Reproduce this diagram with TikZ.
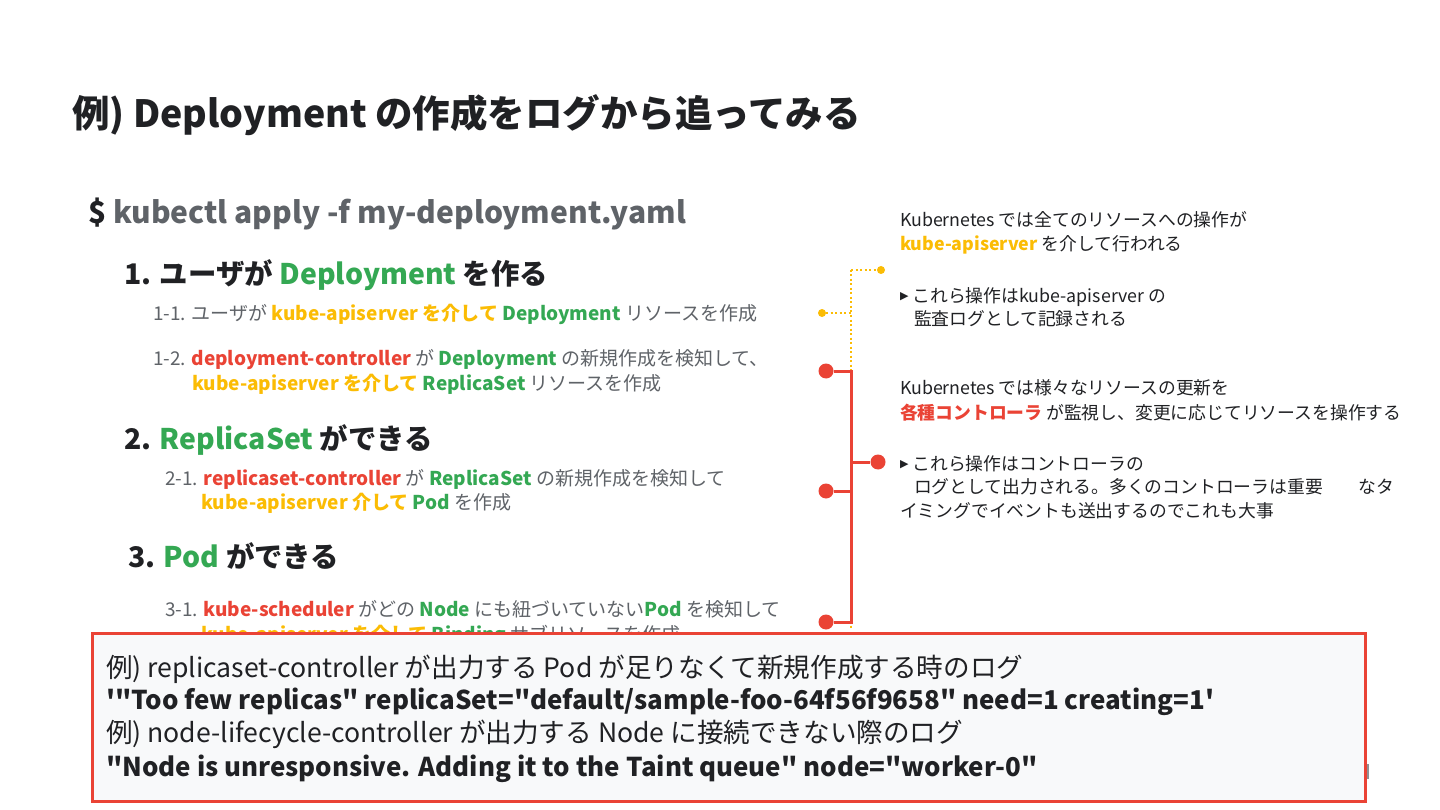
\documentclass[tikz,border=0pt]{standalone}
\usepackage{fontspec}
\setmainfont{Noto Sans CJK JP}[Ligatures=TeXOff]
\newfontfamily\symf{DejaVu Sans}
\definecolor{kred}{HTML}{EA4335}
\definecolor{kyel}{HTML}{FBBC04}
\definecolor{kgreen}{HTML}{34A853}
\definecolor{kgray}{HTML}{5F6368}
\definecolor{kblack}{HTML}{202124}
\definecolor{kbox}{HTML}{F8F9FA}
\newcommand\myfs[1]{\fontsize{#1}{#1}\selectfont}
\newcommand\kGr[1]{\textcolor{kgreen}{\bfseries #1}}
\newcommand\kYe[1]{\textcolor{kyel}{\bfseries #1}}
\newcommand\kRe[1]{\textcolor{kred}{\bfseries #1}}
\newcommand\ktri{\raisebox{2.5pt}{\symf\myfs{11}▶}\hspace{4pt}}
\tikzset{
  txt/.style={anchor=base west, inner sep=0pt, outer sep=0pt},
  titletxt/.style={txt, font=\myfs{37.5}\bfseries, text=kblack},
  cmdtxt/.style={txt, font=\myfs{30}\bfseries, text=kgray},
  headtxt/.style={txt, font=\myfs{28.4}\bfseries, text=kblack},
  bodytxt/.style={txt, font=\myfs{19}, text=kgray},
  righttxt/.style={txt, font=\myfs{17.8}, text=kblack},
  boxtxt/.style={txt, font=\myfs{26.6}, text=kblack},
  boxbold/.style={txt, font=\myfs{25.9}\bfseries, text=kblack},
  ydot/.style={circle, fill=kyel, inner sep=0pt, minimum size=8pt},
  rdot/.style={circle, fill=kred, inner sep=0pt, minimum size=15pt},
  yline/.style={draw=kyel, line width=2pt, dash pattern=on 2pt off 2.5pt},
  rline/.style={draw=kred, line width=3pt},
  logbox/.style={draw=kred, line width=3pt, fill=kbox}
}
\begin{document}
\begin{tikzpicture}[x=1pt, y=-1pt]
\useasboundingbox (0,0) rectangle (1440,810);
\fill[white] (0,0) rectangle (1440,810);

% title and command
\node[titletxt] (title) at (72,128) {例) Deployment の作成をログから追ってみる};
\node[cmdtxt] (cmd) at (88,224) {\textcolor{kblack}{\$} kubectl apply -f my-deployment.yaml};

% steps
\node[headtxt] (h1) at (124,284) {1. ユーザが \kGr{Deployment} を作る};
\node[bodytxt] (s11) at (153,320) {1-1. ユーザが \kYe{kube-apiserver を介して} \kGr{Deployment} リソースを作成};
\node[bodytxt] (s12a) at (153,365) {1-2. \kRe{deployment-controller} が \kGr{Deployment} の新規作成を検知して、};
\node[bodytxt] (s12b) at (192,390) {\kYe{kube-apiserver を介して} \kGr{ReplicaSet} リソースを作成};
\node[headtxt] (h2) at (124,449) {2. \kGr{ReplicaSet} ができる};
\node[bodytxt] (s21a) at (165,485) {2-1. \kRe{replicaset-controller} が \kGr{ReplicaSet} の新規作成を検知して};
\node[bodytxt] (s21b) at (201,509) {\kYe{kube-apiserver 介して} \kGr{Pod} を作成};
\node[headtxt] (h3) at (128,567) {3. \kGr{Pod} ができる};
\node[bodytxt] (s31a) at (165,616) {3-1. \kRe{kube-scheduler} がどの \kGr{Node} にも紐づいていない\kGr{Pod} を検知して};
\node[bodytxt] (s31b) at (201,641) {\kYe{kube-apiserver を介して} \kGr{Binding} サブリソースを作成};

% right notes
\node[righttxt] (r1a) at (900,227) {Kubernetes では全てのリソースへの操作が};
\node[righttxt] (r1b) at (900,251) {\kYe{kube-apiserver} を介して行われる};
\node[righttxt] (r2a) at (900,302) {\ktri これら操作はkube-apiserver の};
\node[righttxt] (r2b) at (914,325) {監査ログとして記録される};
\node[righttxt] (r3a) at (900,394) {Kubernetes では様々なリソースの更新を};
\node[righttxt] (r3b) at (900,419) {\kRe{各種コントローラ} が監視し、変更に応じてリソースを操作する};
\node[righttxt] (r4a) at (900,470) {\ktri これら操作はコントローラの};
\node[righttxt] (r4b) at (914,493) {ログとして出力される。多くのコントローラは重要　　なタ};
\node[righttxt] (r4c) at (900,517) {イミングでイベントも送出するのでこれも大事};

% yellow dotted connector
\node[ydot] (yd1) at (822,313) {};
\node[ydot] (yd2) at (881,270) {};
\coordinate (yc1) at (851,313);
\coordinate (yc2) at (851,270);
\coordinate (yc3) at (851,628);
\draw[yline] (yd1) -- (yc1);
\draw[yline] (yc2) -- (yd2);
\draw[yline] (yc2) -- (yc3);

% red connector
\node[rdot] (rd1) at (826,371) {};
\node[rdot] (rd2) at (878,462) {};
\node[rdot] (rd3) at (826,491) {};
\node[rdot] (rd4) at (826,622) {};
\coordinate (rc1) at (851,371);
\coordinate (rc2) at (851,462);
\coordinate (rc3) at (851,491);
\coordinate (rc4) at (851,622);
\draw[rline] (rd1) -- (rc1);
\draw[rline] (rc2) -- (rd2);
\draw[rline] (rd3) -- (rc3);
\draw[rline] (rd4) -- (rc4);
\draw[rline, line cap=rect] (rc1) -- (rc4);

% small page mark
\fill[kgray!70] (1366,764) rectangle (1369,779);

% log box
\draw[logbox] (92,633) rectangle (1365,801);
\node[boxtxt] (b1) at (106,677) {例) replicaset-controller が出力する Pod が足りなくて新規作成する時のログ};
\node[boxbold] (b2) at (106,709) {'"Too few replicas" replicaSet="default/sample-foo-64f56f9658" need=1 creating=1'};
\node[boxtxt] (b3) at (106,742) {例) node-lifecycle-controller が出力する Node に接続できない際のログ};
\node[boxbold] (b4) at (106,776) {"Node is unresponsive. Adding it to the Taint queue" node="worker-0"};
\end{tikzpicture}
\end{document}
